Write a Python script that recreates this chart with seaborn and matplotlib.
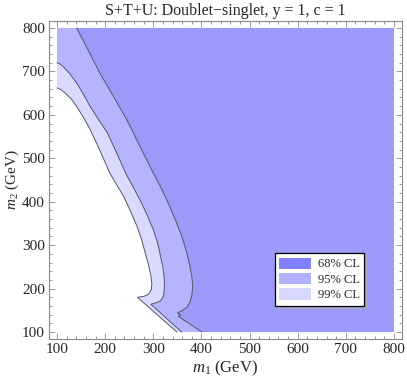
import numpy as np
import matplotlib
matplotlib.use('Agg')
import matplotlib.pyplot as plt
from matplotlib.patches import Patch
from matplotlib.ticker import MultipleLocator
import seaborn as sns

# plot range (GeV)
m_min, m_max = 100, 800

# allowed-region boundaries (m1, m2 in GeV)
b99_m1 = [100, 108, 117, 130, 141, 155, 169, 190, 210, 238, 252, 266, 276,
          283, 290, 295, 297, 296, 290, 280, 267, 349]
b99_m2 = [662, 658, 650, 636, 619, 594, 566, 516, 465, 413, 380, 344, 312,
          283, 255, 229, 212, 198, 187, 182, 180, 100]

b95_m1 = [100, 106, 113, 127, 141, 155, 169, 187, 205, 224, 243, 258, 272,
          287, 300, 309, 315, 320, 323, 323, 321, 315, 307, 295, 359]
b95_m2 = [720, 717, 711, 694, 673, 647, 619, 588, 558, 512, 465, 434, 405,
          370, 336, 305, 275, 248, 222, 198, 182, 172, 168, 164, 100]

b68_m1 = [141, 165, 189, 217, 245, 272, 300, 316, 331, 346, 359, 369, 376,
          380, 382, 380, 376, 369, 359, 350, 357, 352, 401]
b68_m2 = [800, 748, 696, 643, 589, 528, 466, 432, 397, 358, 321, 285, 252,
          228, 206, 185, 168, 156, 149, 144, 139, 136, 100]

levels = ['68% CL', '95% CL', '99% CL']
fill_colors = {'99% CL': '#dadaff', '95% CL': '#b4b4ff', '68% CL': '#9a9af9'}
legend_colors = {'68% CL': '#8080ff', '95% CL': '#b0b0ff', '99% CL': '#d8d8ff'}

sns.set_style('ticks')
plt.rcParams['font.family'] = ['Liberation Serif', 'DejaVu Serif']
plt.rcParams['mathtext.fontset'] = 'custom'
plt.rcParams['mathtext.rm'] = 'Liberation Serif'
plt.rcParams['mathtext.it'] = 'Liberation Serif:italic'

fig = plt.figure(figsize=(4.07, 3.81), dpi=100)
ax = fig.add_axes([49 / 407, 42 / 381, 353 / 407, 318 / 381])

# filled regions, widest first
for name, m1, m2 in [('99% CL', b99_m1, b99_m2), ('95% CL', b95_m1, b95_m2)]:
    ax.fill(np.r_[m1, m_max, m_max, m_min], np.r_[m2, m_min, m_max, m_max],
            color=fill_colors[name], lw=0)
ax.fill(np.r_[b68_m1, m_max, m_max], np.r_[b68_m2, m_min, m_max],
        color=fill_colors['68% CL'], lw=0)

# contour lines
for m1, m2 in [(b99_m1, b99_m2), (b95_m1, b95_m2), (b68_m1, b68_m2)]:
    sns.lineplot(x=m1, y=m2, sort=False, estimator=None, color='#555566',
                 lw=0.7, ax=ax)

ax.set_xlim(83.4, 816.6)
ax.set_ylim(84, 816)
ax.xaxis.set_major_locator(MultipleLocator(100))
ax.yaxis.set_major_locator(MultipleLocator(100))
ax.xaxis.set_minor_locator(MultipleLocator(20))
ax.yaxis.set_minor_locator(MultipleLocator(20))
ax.tick_params(which='both', direction='in', top=True, right=True,
               color='#888888', labelsize=11, width=0.6)
ax.tick_params(which='major', length=4.5, pad=3)
ax.tick_params(which='minor', length=2.2)
for sp in ax.spines.values():
    sp.set_color('#888888')
    sp.set_linewidth(0.8)

ax.set_xlabel('$m_1$ (GeV)', fontsize=12, labelpad=2)
ax.set_ylabel('$m_2$ (GeV)', fontsize=11)
ax.yaxis.set_label_coords(-0.08, 0.5)
ax.set_title('S+T+U: Doublet\u2212singlet, y = 1, c = 1', fontsize=11.5, pad=4)

handles = [Patch(facecolor=legend_colors[l], edgecolor='none', label=l) for l in levels]
leg = ax.legend(handles=handles, loc='lower right', bbox_to_anchor=(0.892, 0.105),
                fontsize=9, frameon=True, fancybox=False,
                shadow={'ox': 1.5, 'oy': -1.5, 'color': '#b0b0b0'},
                edgecolor='black', framealpha=1, borderaxespad=0,
                handlelength=2.5, handleheight=1.0, labelspacing=0.2,
                handletextpad=0.55, borderpad=0.35)
leg.get_frame().set_linewidth(0.9)

fig.savefig('out.png', dpi=100)
